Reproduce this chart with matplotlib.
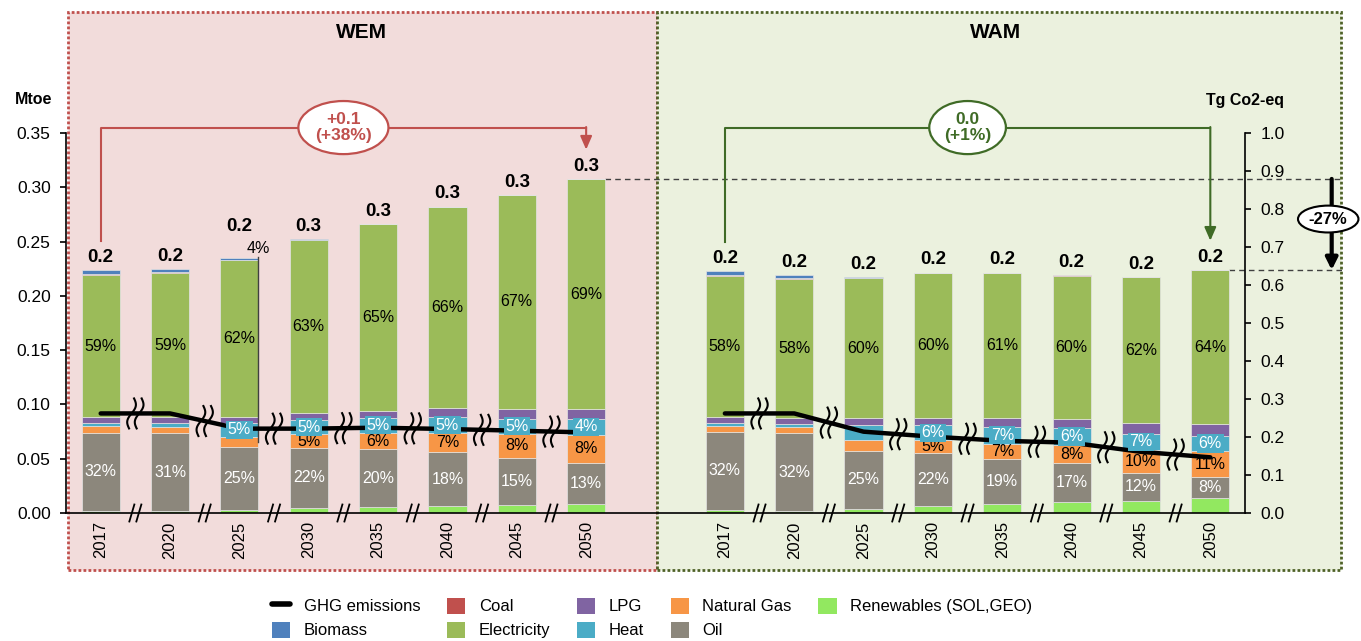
import numpy as np
import matplotlib
matplotlib.use('Agg')
import matplotlib.pyplot as plt
from matplotlib.patches import Rectangle, Patch
from matplotlib.lines import Line2D
import matplotlib.transforms as mtransforms

plt.rcParams['font.family'] = ['Liberation Sans', 'DejaVu Sans']

# ---------------- data ----------------
years = ['2017', '2020', '2025', '2030', '2035', '2040', '2045', '2050']

# WEM scenario (Mtoe)
wem_ren = [0.002, 0.002, 0.003, 0.005, 0.0055, 0.0064, 0.0074, 0.008]
wem_oil = [0.072, 0.0714, 0.058, 0.055, 0.053, 0.0496, 0.0436, 0.0383]
wem_ng = [0.006, 0.0056, 0.0093, 0.0125, 0.015, 0.018, 0.022, 0.026]
wem_heat = [0.0026, 0.0036, 0.0123, 0.013, 0.0144, 0.014, 0.014, 0.014]
wem_lpg = [0.006, 0.0055, 0.006, 0.0065, 0.006, 0.0087, 0.009, 0.0095]
wem_elec = [0.1304, 0.1329, 0.1441, 0.1595, 0.1721, 0.1853, 0.1969, 0.2116]
wem_coal = [0.001, 0.0007, 0.0005, 0.0002, 0.0002, 0.0001, 0.0001, 0.0001]
wem_bio = [0.0038, 0.0028, 0.0015, 0.0003, 0.0002, 0.0002, 0.0002, 0.0002]
wem_ghg = [0.262, 0.262, 0.222, 0.222, 0.2245, 0.221, 0.2166, 0.212]  # Tg CO2-eq

# WAM scenario (Mtoe)
wam_ren = [0.003, 0.002, 0.004, 0.0064, 0.0083, 0.0098, 0.0113, 0.0141]
wam_oil = [0.072, 0.0714, 0.0534, 0.0486, 0.0414, 0.0365, 0.0257, 0.0188]
wam_ng = [0.0051, 0.0061, 0.0096, 0.012, 0.0143, 0.016, 0.021, 0.0242]
wam_heat = [0.003, 0.0025, 0.014, 0.014, 0.0155, 0.0163, 0.0148, 0.0138]
wam_lpg = [0.0054, 0.0058, 0.0068, 0.0068, 0.0083, 0.0083, 0.0098, 0.0108]
wam_elec = [0.1298, 0.128, 0.1282, 0.1334, 0.1334, 0.1318, 0.1346, 0.1418]
wam_coal = [0.0008, 0.0007, 0.0003, 0.0001, 0.0001, 0.0001, 0.0001, 0.0001]
wam_bio = [0.0035, 0.003, 0.0007, 0.0002, 0.0002, 0.0002, 0.0002, 0.0002]
wam_ghg = [0.262, 0.262, 0.214, 0.2008, 0.190, 0.185, 0.161, 0.1465]

# share labels
wem_elec_lbl = ['59%', '59%', '62%', '63%', '65%', '66%', '67%', '69%']
wem_oil_lbl = ['32%', '31%', '25%', '22%', '20%', '18%', '15%', '13%']
wem_heat_lbl = ['', '', '5%', '5%', '5%', '5%', '5%', '4%']
wem_ng_lbl = ['', '', '4%', '5%', '6%', '7%', '8%', '8%']
wam_elec_lbl = ['58%', '58%', '60%', '60%', '61%', '60%', '62%', '64%']
wam_oil_lbl = ['32%', '32%', '25%', '22%', '19%', '17%', '12%', '8%']
wam_heat_lbl = ['', '', '', '6%', '7%', '6%', '7%', '6%']
wam_ng_lbl = ['', '', '', '5%', '7%', '8%', '10%', '11%']

wem_change = '+0.1\n(+38%)'
wam_change = '0.0\n(+1%)'
scen_change = '-27%'

# ---------------- style ----------------
C_COAL = '#C0504D'
C_BIO = '#4F81BD'
C_ELEC = '#9BBB59'
C_LPG = '#8064A2'
C_HEAT = '#4BACC6'
C_NG = '#F79646'
C_OIL = '#8C877C'
C_REN = '#92E860'

W, H = 1361, 641
fig = plt.figure(figsize=(W / 100, H / 100), dpi=100)


def fx(px):
    return px / W


def fy(py):
    return 1 - py / H


# scenario panels
fig.patches.append(Rectangle((fx(68), fy(570)), (657 - 68) / W, (570 - 12) / H,
                             transform=fig.transFigure, fc='#F2DCDB', ec='#C0504D',
                             lw=2, ls=(0, (1, 0.8)), zorder=-2))
fig.patches.append(Rectangle((fx(657), fy(570)), (1341 - 657) / W, (570 - 12) / H,
                             transform=fig.transFigure, fc='#EBF1DE', ec='#4F6228',
                             lw=2, ls=(0, (1, 0.8)), zorder=-2))
fig.text(fx(361), fy(33), 'WEM', ha='center', va='center', fontsize=15, fontweight='bold')
fig.text(fx(996), fy(33), 'WAM', ha='center', va='center', fontsize=15, fontweight='bold')
fig.text(fx(34), fy(100), 'Mtoe', ha='center', va='center', fontsize=11.5, fontweight='bold')
fig.text(fx(1245), fy(100), 'Tg Co2-eq', ha='center', va='center', fontsize=11.5, fontweight='bold')

ax = fig.add_axes([fx(66), fy(513), 1179 / W, 380 / H])
ax.patch.set_visible(False)
ax.set_xlim(-0.5, 16.5)
ax.set_ylim(0, 0.35)
ax2 = ax.twinx()
ax2.set_ylim(0, 1.0)
ax2.patch.set_visible(False)

for s in ['top', 'right']:
    ax.spines[s].set_visible(False)
for s in ['top', 'left', 'bottom']:
    ax2.spines[s].set_visible(False)
ax.spines['left'].set_linewidth(1.2)
ax.spines['bottom'].set_linewidth(1.2)
ax2.spines['right'].set_linewidth(1.2)

lt = np.arange(0, 0.351, 0.05)
ax.set_yticks(lt)
ax.set_yticklabels([f'{v:.2f}' for v in lt])
ax.tick_params(axis='y', length=4, width=1.2, labelsize=12.5, pad=7)
rt = np.arange(0, 1.01, 0.1)
ax2.set_yticks(rt)
ax2.set_yticklabels([f'{v:.1f}' for v in rt])
ax2.tick_params(axis='y', length=4, width=1.2, labelsize=12.5, pad=7)

wem_x = np.arange(len(years))
wam_x = np.arange(len(years)) + len(years) + 1
ax.set_xticks(np.concatenate([wem_x, wam_x]))
ax.set_xticklabels(years + years, rotation=90, fontsize=12)
ax.tick_params(axis='x', length=0, pad=6)

BW = 0.55
PFS = 11.5


def draw_bars(xpos, ren, oil, ng, heat, lpg, elec, coal, bio,
              elec_lbl, oil_lbl, heat_lbl, ng_lbl, lead_ng=None):
    bottom = np.zeros(len(xpos))
    segs = {}
    for name, vals, col in [('ren', ren, C_REN), ('oil', oil, C_OIL), ('ng', ng, C_NG),
                            ('heat', heat, C_HEAT), ('lpg', lpg, C_LPG),
                            ('elec', elec, C_ELEC), ('coal', coal, C_COAL), ('bio', bio, C_BIO)]:
        vals = np.asarray(vals)
        ax.bar(xpos, vals, BW, bottom=bottom, color=col, edgecolor='#E4E4E4',
               linewidth=0.5, zorder=2)
        segs[name] = bottom + vals / 2
        bottom = bottom + vals
    tot = bottom
    for i, x in enumerate(xpos):
        lift = 17 if (lead_ng is not None and i == lead_ng) else 3
        ax2.annotate(f'{tot[i]:.1f}', xy=(x, tot[i]), xycoords=ax.transData,
                     xytext=(0, lift), textcoords='offset points', ha='center', va='bottom',
                     fontsize=13.5, fontweight='bold', zorder=6)
        if elec_lbl[i]:
            ax2.text(x, segs['elec'][i], elec_lbl[i], transform=ax.transData,
                     ha='center', va='center', fontsize=PFS, color='black', zorder=6)
        if oil_lbl[i]:
            ax2.text(x, segs['oil'][i], oil_lbl[i], transform=ax.transData,
                     ha='center', va='center', fontsize=PFS, color='white', zorder=6)
        if heat_lbl[i]:
            ax2.text(x, segs['heat'][i], heat_lbl[i], transform=ax.transData,
                     ha='center', va='center', fontsize=PFS, color='white', zorder=6,
                     bbox=dict(boxstyle='square,pad=0.1', fc=C_HEAT, ec='none'))
        if ng_lbl[i]:
            if lead_ng is not None and i == lead_ng:
                xe = x + BW / 2
                ax2.plot([xe, xe], [segs['ng'][i], tot[i] + 0.0015], color='#404040',
                         lw=1, transform=ax.transData, zorder=1)
                ax2.annotate(ng_lbl[i], xy=(xe, tot[i]), xycoords=ax.transData,
                             xytext=(0, 1.5), textcoords='offset points',
                             ha='center', va='bottom', fontsize=PFS, color='black', zorder=6)
            else:
                ax2.text(x, segs['ng'][i], ng_lbl[i], transform=ax.transData,
                         ha='center', va='center', fontsize=PFS, color='black', zorder=2)
    return tot


wem_tot = draw_bars(wem_x, wem_ren, wem_oil, wem_ng, wem_heat, wem_lpg, wem_elec, wem_coal,
                    wem_bio, wem_elec_lbl, wem_oil_lbl, wem_heat_lbl, wem_ng_lbl, lead_ng=2)
wam_tot = draw_bars(wam_x, wam_ren, wam_oil, wam_ng, wam_heat, wam_lpg, wam_elec, wam_coal,
                    wam_bio, wam_elec_lbl, wam_oil_lbl, wam_heat_lbl, wam_ng_lbl)

# GHG emissions lines
for xs, g in [(wem_x, wem_ghg), (wam_x, wam_ghg)]:
    ax2.plot(xs, g, color='black', lw=3.2, solid_capstyle='round', zorder=4)

# break marks
t = np.linspace(-1, 1, 50)


def wave_mark(xc, yc):
    tr = fig.dpi_scale_trans + mtransforms.ScaledTranslation(xc, yc, ax2.transData)
    for off in (-0.038, 0.038):
        xs = off + 0.03 * np.sin(np.pi * t) + 0.025 * t
        ys = 0.15 * t
        ax2.add_line(Line2D(xs, ys, color='black', lw=1.5, transform=tr, zorder=5,
                            clip_on=False))


def axis_mark(xc):
    tr = fig.dpi_scale_trans + mtransforms.ScaledTranslation(xc, 0, ax.transData)
    for off in (-0.035, 0.035):
        ax2.add_line(Line2D([off - 0.025, off + 0.025], [-0.085, 0.085], color='black',
                            lw=1.3, transform=tr, zorder=5, clip_on=False))


for xs, g in [(wem_x, wem_ghg), (wam_x, wam_ghg)]:
    for i in range(len(xs) - 1):
        xm = (xs[i] + xs[i + 1]) / 2
        wave_mark(xm, (g[i] + g[i + 1]) / 2)
        axis_mark(xm)

# change brackets
YB = 0.355


def bracket(x0, x1, t0, t1, color, text, tcolor):
    ax.plot([x0, x0, x1], [t0 + 0.027, YB, YB], color=color, lw=1.5, clip_on=False, zorder=3)
    ax.annotate('', xy=(x1, t1 + 0.027), xytext=(x1, YB + 0.0005),
                arrowprops=dict(arrowstyle='-|>,head_length=0.8,head_width=0.35',
                                color=color, lw=1.5, shrinkA=0, shrinkB=0),
                annotation_clip=False, zorder=3)
    ax.text((x0 + x1) / 2, YB, text, ha='center', va='center', fontsize=12.5,
            fontweight='bold', color=tcolor, linespacing=1.05, zorder=4,
            bbox=dict(boxstyle='ellipse,pad=0.2', fc='white', ec=color, lw=1.6))


bracket(wem_x[0], wem_x[-1], wem_tot[0], wem_tot[-1], '#C0504D', wem_change, '#C0504D')
bracket(wam_x[0], wam_x[-1], wam_tot[0], wam_tot[-1], '#3F6B26', wam_change, '#3F6B26')

# scenario comparison
XR = 17.9
XA = 17.75
ax.plot([wem_x[-1] + BW / 2, XR], [wem_tot[-1]] * 2, color='#404040', lw=1,
        ls=(0, (4, 3)), clip_on=False, zorder=1)
ax.plot([wam_x[-1] + BW / 2, XR], [wam_tot[-1]] * 2, color='#404040', lw=1,
        ls=(0, (4, 3)), clip_on=False, zorder=1)
ax.annotate('', xy=(XA, wam_tot[-1]), xytext=(XA, wem_tot[-1]),
            arrowprops=dict(arrowstyle='-|>,head_length=0.7,head_width=0.35',
                            color='black', lw=3, shrinkA=0, shrinkB=0),
            annotation_clip=False)
ax.text(XA - 0.05, (wem_tot[-1] + wam_tot[-1]) / 2 + 0.005, scen_change, ha='center',
        va='center', fontsize=12, fontweight='bold', zorder=5,
        bbox=dict(boxstyle='ellipse,pad=0.12', fc='white', ec='black', lw=1.5))

# legend
handles = [Line2D([], [], color='black', lw=4, solid_capstyle='round'),
           Patch(fc=C_BIO), Patch(fc=C_COAL), Patch(fc=C_ELEC), Patch(fc=C_LPG),
           Patch(fc=C_HEAT), Patch(fc=C_NG), Patch(fc=C_OIL), Patch(fc=C_REN)]
labels = ['GHG emissions', 'Biomass', 'Coal', 'Electricity', 'LPG', 'Heat',
          'Natural Gas', 'Oil', 'Renewables (SOL,GEO)']
fig.legend(handles, labels, ncol=5, loc='center', bbox_to_anchor=(fx(652), fy(618)),
           frameon=False, prop={'family': ['Liberation Sans Narrow', 'Liberation Sans'],
                                'size': 12},
           handlelength=1.1, handleheight=1.1, handletextpad=0.8, columnspacing=1.6,
           labelspacing=0.45, borderpad=0)

fig.savefig('out.png', dpi=100)
